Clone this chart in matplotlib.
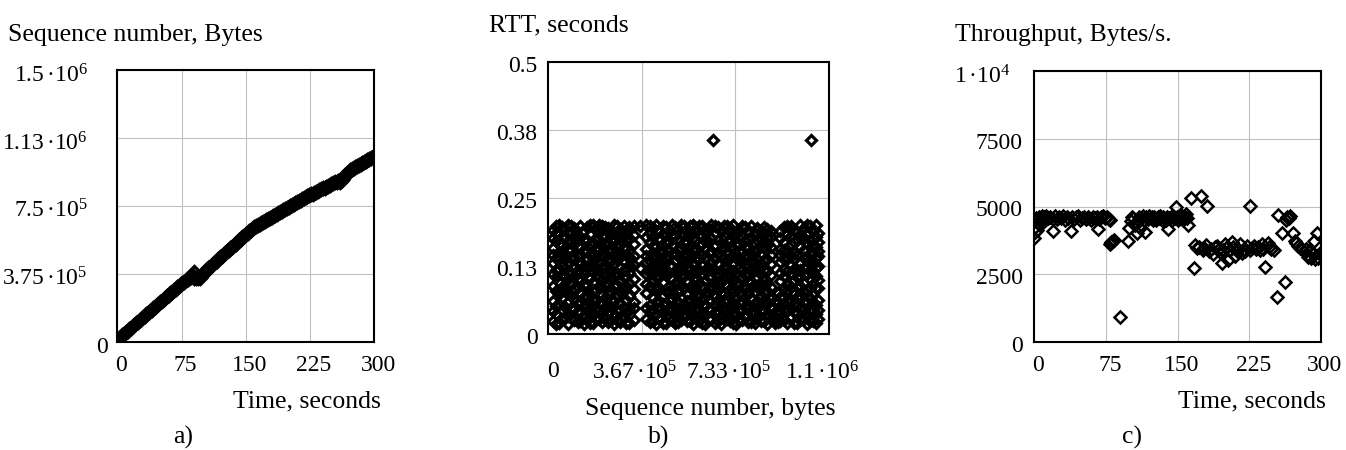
import matplotlib.pyplot as plt
from matplotlib.transforms import ScaledTranslation


# =========================
# a) sequence number vs time
# =========================

seq_time = [0, 2, 4, 6, 8, 10, 12, 14, 16, 18, 20, 22, 24, 26, 28, 30, 32,
            34, 36, 38, 40, 42, 44, 46, 48, 50, 52, 54, 56, 58, 60, 62, 64,
            66, 68, 70, 72, 74, 76, 78, 80, 82, 84, 86, 88, 89, 90, 92, 94,
            96, 98, 100, 102, 104, 106, 108, 110, 112, 114, 116, 118, 120,
            122, 124, 126, 128, 130, 132, 134, 136, 138, 140, 142, 144, 146,
            148, 150, 152, 154, 156, 158, 160, 162, 164, 166, 168, 170, 172,
            174, 176, 178, 180, 182, 184, 186, 188, 190, 192, 194, 196, 198,
            200, 202, 204, 206, 208, 210, 212, 214, 216, 218, 220, 222, 224,
            226, 228, 230, 232, 234, 236, 238, 240, 242, 244, 246, 248, 250,
            252, 254, 256, 258, 260, 262, 264, 266, 268, 270, 272, 274, 276,
            278, 280, 282, 284, 286, 288, 290, 292, 294, 296, 298, 300]

seq_kb = [10, 18, 27, 35, 44, 52, 60, 69, 77, 85, 93, 102, 110, 118, 127,
          135, 143, 152, 160, 168, 176, 185, 193, 201, 210, 218, 226, 235,
          243, 251, 259, 268, 276, 284, 292, 301, 309, 317, 326, 332, 338,
          344, 349, 355, 360, 386, 352, 350, 349, 350, 361, 372, 384, 395,
          405, 414, 423, 431, 440, 448, 457, 465, 474, 482, 491, 499, 508,
          516, 525, 533, 542, 551, 560, 568, 577, 585, 594, 602, 610, 618,
          626, 633, 640, 646, 652, 657, 663, 668, 674, 679, 685, 690, 695,
          700, 706, 711, 716, 721, 727, 732, 738, 743, 749, 754, 760, 765,
          770, 775, 781, 786, 792, 797, 803, 808, 813, 818, 822, 827, 832,
          837, 841, 846, 851, 856, 860, 865, 870, 875, 880, 884, 886, 884,
          893, 905, 918, 930, 938, 946, 952, 958, 964, 970, 976, 982, 988,
          994, 1000, 1005, 1011, 1016, 1022, 1027]


# =========================
# b) RTT vs sequence number
# =========================

rtt_col_kb = [20, 31, 44, 55, 67, 80, 91, 103, 116, 127, 139, 152, 163, 175,
              188, 199, 211, 224, 235, 247, 260, 271, 283, 296, 307, 319,
              337, 361, 384, 399, 412, 424, 436, 449, 460, 472, 485, 496,
              508, 521, 532, 544, 557, 568, 580, 593, 604, 616, 629, 640,
              646, 652, 665, 676, 688, 701, 712, 724, 737, 748, 760, 773,
              784, 796, 809, 820, 832, 845, 858, 871, 880, 890, 900, 909,
              924, 937, 950, 963, 975, 988, 1001, 1012, 1024, 1031, 1037,
              1048, 1055]

rtt_col_ms = [
    [24, 61, 88, 131, 158, 192, 42, 110, 146, 176],
    [37, 52, 104, 118, 171, 199, 18, 79, 140, 185],
    [21, 73, 96, 142, 150, 184, 55, 119, 165, 200],
    [45, 66, 109, 125, 163, 196, 28, 87, 148, 178],
    [29, 79, 84, 137, 147, 178, 50, 107, 122, 193],
    [33, 58, 101, 113, 169, 201, 19, 76, 132, 154],
    [48, 70, 92, 139, 155, 187, 30, 113, 170, 199],
    [26, 64, 107, 121, 166, 194, 46, 85, 142, 180],
    [40, 55, 86, 133, 144, 181, 22, 102, 118, 161],
    [23, 76, 98, 128, 160, 199, 41, 58, 145, 178],
    [35, 68, 111, 117, 173, 189, 18, 52, 90, 150],
    [43, 51, 90, 140, 152, 197, 26, 70, 121, 172],
    [20, 74, 103, 126, 165, 183, 40, 57, 145, 200],
    [38, 62, 95, 135, 149, 200, 21, 80, 114, 170],
    [46, 81, 108, 119, 175, 191, 28, 63, 140, 158],
    [27, 57, 87, 131, 157, 186, 44, 104, 118, 200],
    [41, 71, 100, 143, 162, 198, 22, 55, 124, 180],
    [31, 66, 112, 122, 148, 180, 48, 90, 165, 197],
    [22, 53, 93, 137, 168, 195, 38, 74, 116, 152],
    [49, 78, 105, 115, 154, 188, 25, 62, 134, 172],
    [34, 60, 89, 129, 171, 201, 19, 108, 146, 186],
    [25, 72, 110, 138, 146, 184, 44, 90, 160, 199],
    [44, 56, 97, 124, 163, 193, 22, 78, 141, 178],
    [30, 80, 85, 134, 159, 199, 50, 104, 117, 181],
    [39, 63, 106, 120, 172, 187, 20, 88, 146, 158],
    [21, 69, 94, 141, 151, 196, 44, 112, 127, 176],
    [47, 59, 102, 127, 166, 182, 26, 83, 144, 199],
    [121, 198],
    [28, 75, 91, 132, 156, 200, 47, 110, 144, 178],
    [42, 54, 113, 118, 170, 185, 22, 88, 135, 198],
    [23, 67, 99, 139, 145, 194, 44, 120, 162, 179],
    [36, 82, 88, 123, 161, 201, 19, 58, 105, 142],
    [45, 61, 104, 130, 176, 190, 27, 84, 115, 153],
    [20, 70, 96, 136, 150, 183, 41, 55, 118, 199],
    [33, 57, 109, 116, 167, 197, 20, 79, 140, 184],
    [48, 77, 86, 142, 153, 188, 29, 62, 112, 170],
    [26, 64, 101, 125, 164, 200, 45, 83, 147, 181],
    [39, 52, 93, 134, 148, 181, 21, 71, 116, 196],
    [22, 79, 112, 121, 174, 193, 40, 58, 96, 155],
    [43, 68, 90, 138, 158, 186, 25, 109, 124, 200],
    [31, 55, 106, 127, 169, 199, 47, 85, 144, 182],
    [47, 73, 97, 119, 146, 190, 23, 60, 133, 170],
    [24, 62, 108, 141, 162, 184, 43, 86, 121, 198],
    [37, 81, 87, 131, 155, 201, 19, 56, 112, 176],
    [29, 58, 103, 114, 172, 195, 45, 80, 140, 157],
    [44, 71, 94, 137, 149, 182, 24, 57, 118, 199],
    [21, 65, 110, 126, 166, 198, 40, 88, 145, 180],
    [35, 53, 99, 140, 157, 187, 18, 74, 117, 171],
    [46, 76, 85, 122, 170, 193, 27, 61, 104, 148],
    [27, 60, 105, 133, 152, 200, 45, 82, 118, 176],
    [356],
    [40, 69, 92, 118, 163, 185, 21, 55, 137, 199],
    [23, 80, 111, 129, 147, 196, 43, 62, 95, 172],
    [34, 56, 96, 143, 168, 189, 18, 75, 116, 157],
    [49, 74, 102, 124, 159, 199, 28, 60, 140, 180],
    [28, 63, 89, 136, 151, 183, 46, 110, 122, 198],
    [42, 51, 107, 117, 173, 194, 24, 82, 140, 160],
    [20, 78, 98, 130, 156, 201, 39, 57, 115, 180],
    [37, 67, 113, 139, 145, 186, 19, 52, 93, 166],
    [45, 59, 91, 121, 165, 192, 27, 76, 139, 176],
    [25, 72, 104, 134, 150, 180, 44, 57, 118, 199],
    [32, 82, 88, 127, 171, 197, 49, 108, 146, 160],
    [47, 54, 109, 141, 160, 188, 22, 74, 124, 175],
    [22, 66, 95, 119, 148, 199, 40, 84, 135, 178],
    [39, 77, 103, 132, 167, 184, 20, 56, 118, 150],
    [30, 61, 86, 138, 154, 195, 47, 105, 121, 172],
    [43, 70, 111, 123, 174, 190, 24, 56, 92, 148],
    [24, 57, 100, 135, 158, 186, 42, 76, 117, 197],
    [36, 79, 93, 116, 163, 193, 19, 58, 138, 176],
    [48, 64, 108, 128, 146, 178, 27, 86, 160, 190],
    [25, 48, 36],
    [32, 61, 20],
    [22, 44, 75, 58],
    [41, 68, 97, 133, 157, 189, 23, 112, 145, 176],
    [26, 55, 106, 120, 170, 196, 44, 84, 138, 155],
    [44, 81, 90, 142, 151, 184, 21, 60, 115, 198],
    [31, 62, 112, 126, 165, 199, 48, 87, 143, 180],
    [21, 73, 99, 137, 149, 191, 40, 56, 120, 170],
    [38, 52, 87, 118, 172, 187, 20, 68, 104, 146],
    [47, 69, 105, 131, 160, 201, 26, 88, 117, 180],
    [27, 78, 94, 140, 155, 194, 46, 58, 122, 176],
    [35, 58, 110, 124, 168, 185, 18, 80, 143, 201],
    [42, 66, 101, 136, 147, 198, 24, 85, 116, 172],
    [356],
    [23, 75, 92, 129, 164, 190, 45, 58, 112, 148],
    [36, 54, 107, 121, 178, 200, 20, 84, 140, 160],
    [45, 63, 84, 143, 153, 186, 27, 100, 125, 170],
]


# =========================
# c) throughput vs time
# =========================

thr_time = [0, 1, 1.5, 2, 3, 4, 5, 6, 7, 8, 9, 10, 12, 13, 15, 17, 19.5, 20,
            22, 24, 26, 28, 30, 32, 34, 36, 38.3, 40, 42, 44, 46, 48, 50, 52,
            54, 56, 58, 60, 62, 64, 66, 67.2, 68, 70, 72, 74, 76, 78, 79.5,
            79, 81, 82.5, 84, 89.9, 98.6, 99.6, 101, 102.5, 104, 105.5, 107.3,
            108.5, 110, 110.8, 112, 113.5, 115, 116, 117.5, 119, 120, 122,
            123, 124, 125.5, 127, 128, 129.5, 131, 132, 133.5, 135, 136,
            137.5, 139, 140.4, 141.5, 143, 144, 145.5, 147, 148.4, 149,
            150.5, 152, 153, 154.5, 156, 157.5, 158.5, 160, 161.3, 163.8,
            167.2, 168.3, 170, 172, 174.2, 176.4, 178, 179.9, 181.2, 183,
            185, 187, 189, 191, 193, 194.5, 196.2, 197.5, 199.6, 201, 203.1,
            205, 206.6, 208, 210, 212, 213.5, 215.2, 217, 219, 221, 223,
            225.8, 226, 228, 230, 232, 234, 236, 238, 239.5, 241.5, 244.3,
            246, 248, 250.7, 253.7, 255.4, 258.9, 262.4, 263, 264.5, 266.5,
            267.5, 270.4, 272.5, 274, 276, 278, 280, 282, 284, 286, 288, 290,
            291.5, 292.7, 294, 295.5, 297, 298.5, 299.5]

thr_value = [3830, 4070, 4250, 4580, 4150, 4400, 4620, 4300, 4550, 4650, 4480,
             4600, 4520, 4650, 4560, 4620, 4110, 4540, 4640, 4530, 4600, 4560,
             4650, 4520, 4610, 4560, 4110, 4620, 4540, 4600, 4650, 4520, 4580,
             4630, 4540, 4610, 4560, 4520, 4600, 4560, 4630, 4170, 4540, 4600,
             4650, 4560, 4600, 4530, 4520, 3630, 3700, 3740, 3770, 930, 3740,
             4190, 4450, 4620, 4560, 4300, 4010, 4500, 4620, 4190, 4560, 4640,
             4500, 4070, 4600, 4540, 4650, 4560, 4600, 4520, 4620, 4560, 4500,
             4600, 4560, 4640, 4520, 4600, 4560, 4500, 4620, 4155, 4560, 4600,
             4520, 4640, 4560, 4990, 4600, 4500, 4620, 4560, 4640, 4520, 4600,
             4720, 4560, 4320, 5300, 2720, 3580, 3460, 3520, 5385, 3400, 3470,
             3580, 5020, 3350, 3450, 3260, 3500, 3560, 3420, 3330, 2900, 3380,
             3630, 3480, 3030, 3400, 3690, 3500, 3190, 3350, 3450, 3630, 3280,
             3420, 3360, 3550, 5020, 3400, 3480, 3560, 3430, 3500, 3380, 3600,
             3450, 2780, 3640, 3500, 3430, 3400, 1670, 4690, 4010, 2230, 4500,
             4600, 4560, 4640, 4040, 3720, 3640, 3560, 3480, 3420, 3350, 3420,
             3150, 3380, 3100, 3250, 3720, 3080, 4010, 3100, 3300, 3200]


# =========================
# FIGURE
# =========================

plt.rcParams['font.family'] = 'Liberation Serif'
plt.rcParams['mathtext.fontset'] = 'custom'
plt.rcParams['mathtext.rm'] = 'Liberation Serif'
plt.rcParams['mathtext.it'] = 'Liberation Serif:italic'
plt.rcParams['mathtext.default'] = 'regular'

W, H = 1346, 450
fig = plt.figure(figsize=(W / 100, H / 100), dpi=100)


def box(l, t, r, b):
    return [l / W, 1 - b / H, (r - l) / W, (b - t) / H]


def at(x, y):
    return x / W, 1 - y / H


def nudge(label, dx, dy=0):
    # shift a tick label by a few pixels
    label.set_transform(label.get_transform()
                        + ScaledTranslation(dx / 100, -dy / 100, fig.dpi_scale_trans))


def setup(ax, xlim, ylim, xticks, xlabels, yticks, ylabels, xpad, ypad):
    ax.set_xlim(xlim)
    ax.set_ylim(ylim)
    ax.grid(True, color='#c0c0c0', linewidth=0.8)
    ax.set_axisbelow(True)
    for s in ax.spines.values():
        s.set_linewidth(1.5)
    ax.set_xticks(xticks, xlabels)
    ax.set_yticks(yticks, ylabels)
    ax.tick_params(length=0, labelsize=17)
    ax.tick_params(axis='x', pad=xpad)
    ax.tick_params(axis='y', pad=ypad)


mk = dict(linestyle='none', marker='D', mfc='none', mec='black')

# ---- a)
ax_a = fig.add_axes(box(117.3, 70, 374.3, 341.7))
ax_a.plot(seq_time, [v * 1000 for v in seq_kb], ms=6.2, mew=2.4, **mk)
setup(ax_a, (0, 300), (0, 1.5e6),
      [0, 75, 150, 225, 300], ['0', '75', '150', '225', '300'],
      [0, 3.75e5, 7.5e5, 1.125e6, 1.5e6],
      ['0', r'3.75$\,$·10$^{5}$', r'7.5$\,$·10$^{5}$',
       r'1.13$\,$·10$^{6}$', r'1.5$\,$·10$^{6}$'],
      xpad=9.5, ypad=21.5)
for lab in ax_a.get_xticklabels():
    nudge(lab, 4)
yl = ax_a.get_yticklabels()
nudge(yl[0], 20, 3)
for lab in yl[1:]:
    nudge(lab, 0, 3)

# ---- b)
ax_b = fig.add_axes(box(548, 62, 829, 334))
b_x, b_y = [], []
for kb, col in zip(rtt_col_kb, rtt_col_ms):
    for ms in col:
        b_x.append(kb * 1000)
        b_y.append(ms / 1000)
ax_b.plot(b_x, b_y, ms=5.6, mew=2.3, **mk)
setup(ax_b, (0, 1.1e6), (0, 0.5),
      [0, 1.1e6 / 3, 2.2e6 / 3, 1.1e6],
      ['0', r'3.67$\,$·10$^{5}$', r'7.33$\,$·10$^{5}$', r'1.1$\,$·10$^{6}$'],
      [0, 0.125, 0.25, 0.375, 0.5], ['0', '0.13', '0.25', '0.38', '0.5'],
      xpad=19.5, ypad=7.5)
xl = ax_b.get_xticklabels()
nudge(xl[0], 5)
for lab in xl[1:]:
    nudge(lab, -7)
for lab in ax_b.get_yticklabels():
    nudge(lab, 0, 2)

# ---- c)
ax_c = fig.add_axes(box(1034, 71, 1321, 342))
ax_c.plot(thr_time, thr_value, ms=6.4, mew=1.8, **mk)
setup(ax_c, (0, 300), (0, 1e4),
      [0, 75, 150, 225, 300], ['0', '75', '150', '225', '300'],
      [0, 2500, 5000, 7500, 1e4],
      ['0', '2500', '5000', '7500', r'1$\,$·10$^{4}$'],
      xpad=9.5, ypad=8)
for lab in ax_c.get_xticklabels():
    nudge(lab, 4)
yl = ax_c.get_yticklabels()
for lab in yl[:-1]:
    nudge(lab, 0, 2)
nudge(yl[-1], -13, 3)

# ---- axis captions
fs = 18.5
fig.text(*at(8, 40.7), 'Sequence number, Bytes', fontsize=fs, va='baseline')
fig.text(*at(233, 407), 'Time, seconds', fontsize=fs, va='baseline')
fig.text(*at(173, 444), 'a)', fontsize=fs, va='baseline')

fig.text(*at(489, 31), 'RTT, seconds', fontsize=fs, va='baseline')
fig.text(*at(585, 415), 'Sequence number, bytes', fontsize=fs, va='baseline')
fig.text(*at(648, 444), 'b)', fontsize=fs, va='baseline')

fig.text(*at(955, 40.7), 'Throughput, Bytes/s.', fontsize=fs, va='baseline')
fig.text(*at(1178, 407), 'Time, seconds', fontsize=fs, va='baseline')
fig.text(*at(1122, 444), 'c)', fontsize=fs, va='baseline')

plt.savefig('out.png', dpi=100)
